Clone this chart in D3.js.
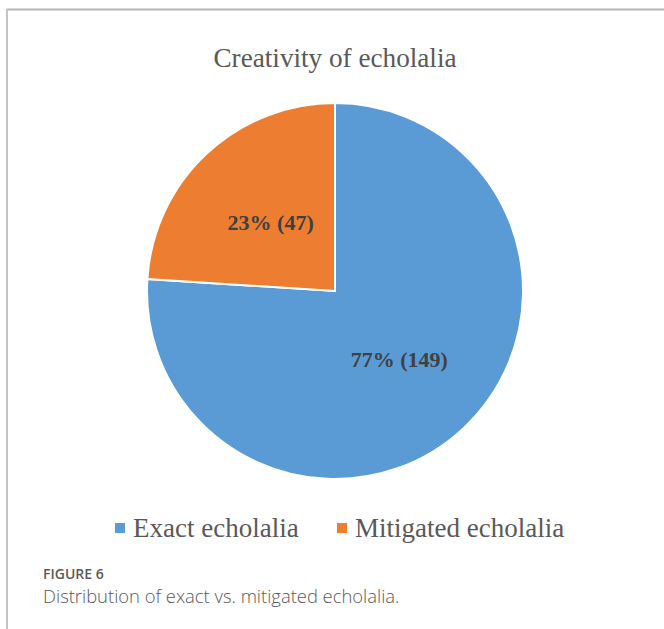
<!DOCTYPE html>
<html>
<head>
<meta charset="utf-8">
<script src="https://cdn.jsdelivr.net/npm/d3@7"></script>
<style>
  html, body { margin: 0; padding: 0; background: #fff; }
  svg { display: block; }
</style>
</head>
<body>
<svg id="chart"></svg>
<script>
// data
const categories = ['Exact echolalia', 'Mitigated echolalia'];
const counts     = [149, 47];
const pctLabels  = ['77%', '23%'];
const colors     = ['#5b9bd5', '#ed7d31'];

const W = 664, H = 629;
const cx = 335, cy = 291, R = 188;

const svg = d3.select('#chart').attr('width', W).attr('height', H);

// frame (top + left rule)
svg.append('line').attr('x1', 7).attr('y1', 9.5).attr('x2', W).attr('y2', 9.5)
  .attr('stroke', '#b4b4b4').attr('stroke-width', 2);
svg.append('line').attr('x1', 7).attr('y1', 9).attr('x2', 7).attr('y2', H)
  .attr('stroke', '#c4c4c4').attr('stroke-width', 2);

// title
svg.append('text').attr('x', cx).attr('y', 67)
  .attr('text-anchor', 'middle')
  .attr('font-family', '"Liberation Serif", "Times New Roman", serif')
  .attr('font-size', 27.2).attr('fill', '#595959')
  .text('Creativity of echolalia');

// pie
const rows = categories.map((c, i) => ({ name: c, value: counts[i], pct: pctLabels[i], color: colors[i] }));
const pie = d3.pie().sort(null).value((d) => d.value);
const arc = d3.arc().innerRadius(0).outerRadius(R);

const g = svg.append('g').attr('transform', `translate(${cx},${cy})`);
const arcs = pie(rows);

g.selectAll('path.slice').data(arcs).join('path')
  .attr('class', 'slice')
  .attr('d', arc)
  .attr('fill', (d) => d.data.color)
  .attr('stroke', '#fff').attr('stroke-width', 2).attr('stroke-linejoin', 'miter');

g.selectAll('text.lbl').data(arcs).join('text')
  .attr('class', 'lbl')
  .attr('transform', (d) => `translate(${arc.centroid(d)})`)
  .attr('text-anchor', 'middle').attr('dy', '0.35em')
  .attr('font-family', '"Liberation Serif", "Times New Roman", serif')
  .attr('font-weight', 'bold').attr('font-size', 22).attr('fill', '#404040')
  .text((d) => `${d.data.pct} (${d.data.value})`);

// legend
const legX = [115, 337];
const leg = svg.append('g').selectAll('g').data(rows).join('g')
  .attr('transform', (d, i) => `translate(${legX[i]},0)`);
leg.append('rect').attr('x', 0).attr('y', 523).attr('width', 10).attr('height', 10)
  .attr('fill', (d) => d.color);
leg.append('text').attr('x', 18).attr('y', 537)
  .attr('font-family', '"Liberation Serif", "Times New Roman", serif')
  .attr('font-size', 27).attr('fill', '#595959')
  .text((d) => d.name);

// caption
svg.append('text').attr('x', 43).attr('y', 579)
  .attr('font-family', '"Open Sans", sans-serif').attr('font-weight', 600)
  .attr('font-size', 14).attr('fill', '#5a5a5a')
  .text('FIGURE 6');
svg.append('text').attr('x', 43).attr('y', 603)
  .attr('font-family', '"Open Sans", sans-serif').attr('font-weight', 300)
  .attr('font-size', 18.4).attr('fill', '#5a5a5a')
  .text('Distribution of exact vs. mitigated echolalia.');
</script>
</body>
</html>
